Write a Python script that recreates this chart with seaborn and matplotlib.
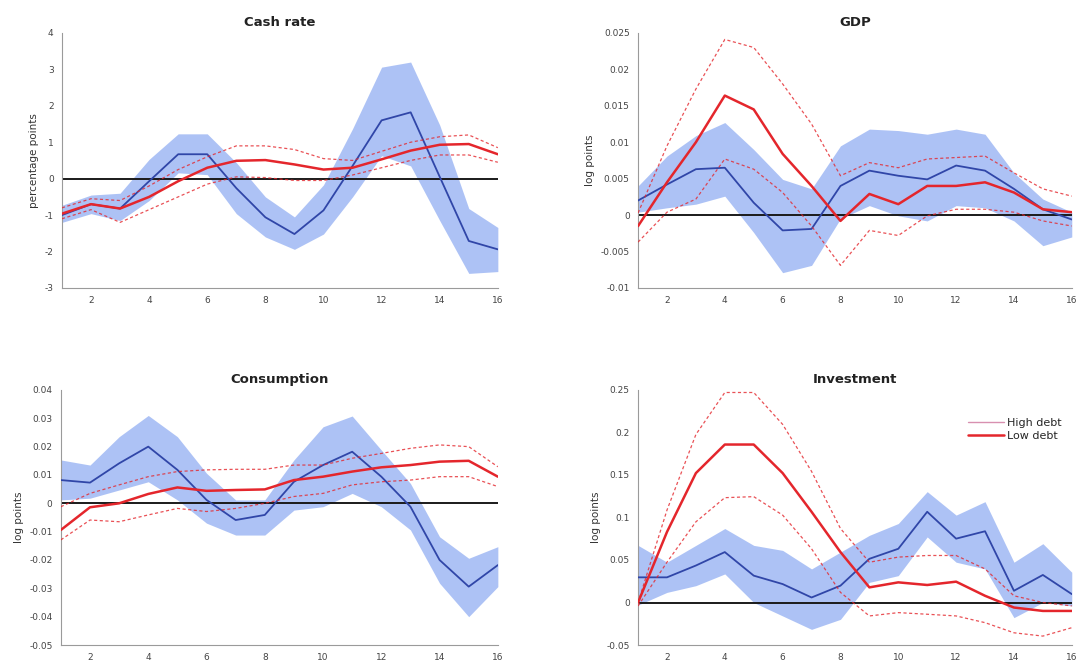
import numpy as np
import pandas as pd
import matplotlib
matplotlib.use("Agg")
import matplotlib.pyplot as plt
import seaborn as sns

# Impulse-response horizon (quarters)
horizon = list(range(1, 17))

# ---- Cash rate (percentage points) ----
cash_high = [-1.0, -0.70, -0.82, -0.07, 0.67, 0.67, -0.26, -1.06, -1.52, -0.87, 0.35, 1.60, 1.82, 0.05, -1.71, -1.94]
cash_high_lo = [-1.20, -0.96, -1.15, -0.60, 0.16, 0.11, -0.96, -1.60, -1.94, -1.52, -0.50, 0.63, 0.35, -1.15, -2.60, -2.55]
cash_high_hi = [-0.73, -0.45, -0.40, 0.53, 1.23, 1.23, 0.44, -0.50, -1.05, -0.17, 1.37, 3.06, 3.20, 1.47, -0.82, -1.34]
cash_low = [-0.96, -0.70, -0.82, -0.50, -0.07, 0.30, 0.49, 0.51, 0.39, 0.25, 0.30, 0.53, 0.77, 0.93, 0.95, 0.67]
cash_low_lo = [-1.10, -0.85, -1.20, -0.85, -0.50, -0.15, 0.05, 0.03, -0.05, -0.05, 0.10, 0.30, 0.50, 0.65, 0.65, 0.45]
cash_low_hi = [-0.80, -0.55, -0.60, -0.20, 0.25, 0.60, 0.90, 0.90, 0.80, 0.55, 0.50, 0.75, 1.00, 1.15, 1.20, 0.85]

# ---- GDP (log points) ----
gdp_high = [0.0020, 0.0042, 0.0063, 0.0065, 0.0017, -0.0021, -0.0019, 0.0040, 0.0061, 0.0054, 0.0049, 0.0068, 0.0061, 0.0036, 0.0008, -0.0006]
gdp_high_lo = [0.0004, 0.0010, 0.0015, 0.0026, -0.0024, -0.0079, -0.0069, -0.0005, 0.0013, -0.0001, -0.0008, 0.0013, 0.0010, -0.0008, -0.0042, -0.0030]
gdp_high_hi = [0.0040, 0.0081, 0.0109, 0.0127, 0.0090, 0.0049, 0.0036, 0.0095, 0.0118, 0.0116, 0.0111, 0.0118, 0.0111, 0.0058, 0.0022, 0.0004]
gdp_low = [-0.0015, 0.0045, 0.0100, 0.0164, 0.0145, 0.0084, 0.0040, -0.0008, 0.0029, 0.0015, 0.0040, 0.0040, 0.0045, 0.0031, 0.0008, 0.0004]
gdp_low_lo = [-0.0037, 0.0004, 0.0022, 0.0077, 0.0063, 0.0031, -0.0015, -0.0069, -0.0021, -0.0028, -0.0001, 0.0008, 0.0008, 0.0004, -0.0008, -0.0015]
gdp_low_hi = [0.0003, 0.0095, 0.0173, 0.0241, 0.0230, 0.0180, 0.0125, 0.0054, 0.0072, 0.0065, 0.0077, 0.0079, 0.0081, 0.0058, 0.0036, 0.0026]

# ---- Consumption (log points) ----
cons_high = [0.0082, 0.0073, 0.0141, 0.0200, 0.0118, 0.0012, -0.0059, -0.0041, 0.0076, 0.0135, 0.0182, 0.0094, -0.0012, -0.0200, -0.0294, -0.0218]
cons_high_lo = [0.0012, 0.0018, 0.0047, 0.0076, 0.0012, -0.0070, -0.0112, -0.0112, -0.0024, -0.0012, 0.0035, -0.0012, -0.0094, -0.0282, -0.0400, -0.0294]
cons_high_hi = [0.0153, 0.0135, 0.0235, 0.0310, 0.0235, 0.0106, 0.0012, 0.0012, 0.0153, 0.0270, 0.0308, 0.0188, 0.0070, -0.0118, -0.0194, -0.0153]
cons_low = [-0.0094, -0.0014, 0.0000, 0.0033, 0.0056, 0.0044, 0.0047, 0.0049, 0.0082, 0.0094, 0.0112, 0.0127, 0.0135, 0.0147, 0.0150, 0.0094]
cons_low_lo = [-0.0129, -0.0059, -0.0065, -0.0041, -0.0018, -0.0029, -0.0018, 0.0000, 0.0024, 0.0035, 0.0065, 0.0076, 0.0082, 0.0094, 0.0094, 0.0059]
cons_low_hi = [-0.0012, 0.0035, 0.0065, 0.0094, 0.0112, 0.0118, 0.0120, 0.0120, 0.0135, 0.0135, 0.0159, 0.0176, 0.0194, 0.0206, 0.0200, 0.0129]

# ---- Investment (log points) ----
inv_high = [0.0296, 0.0296, 0.0435, 0.0593, 0.0316, 0.0217, 0.0059, 0.0198, 0.0514, 0.0632, 0.1067, 0.0751, 0.0838, 0.0138, 0.0324, 0.0099]
inv_high_lo = [-0.0030, 0.0119, 0.0198, 0.0336, 0.0000, -0.0158, -0.0316, -0.0198, 0.0237, 0.0316, 0.0771, 0.0474, 0.0395, -0.0178, 0.0000, -0.0040]
inv_high_hi = [0.0672, 0.0474, 0.0672, 0.0870, 0.0672, 0.0613, 0.0395, 0.0593, 0.0790, 0.0929, 0.1304, 0.1028, 0.1186, 0.0474, 0.0692, 0.0356]
inv_low = [0.0000, 0.0830, 0.1522, 0.1858, 0.1858, 0.1522, 0.1067, 0.0593, 0.0178, 0.0237, 0.0206, 0.0245, 0.0079, -0.0059, -0.0099, -0.0099]
inv_low_lo = [-0.0040, 0.0474, 0.0949, 0.1233, 0.1245, 0.1028, 0.0632, 0.0119, -0.0158, -0.0119, -0.0138, -0.0158, -0.0237, -0.0356, -0.0395, -0.0296]
inv_low_hi = [0.0000, 0.1087, 0.1976, 0.2470, 0.2470, 0.2095, 0.1542, 0.0870, 0.0474, 0.0534, 0.0553, 0.0553, 0.0395, 0.0079, 0.0000, -0.0040]

panels = [
    ("Cash rate", "percentage points", (-3, 4), np.arange(-3, 4.01, 1),
     cash_high, cash_high_lo, cash_high_hi, cash_low, cash_low_lo, cash_low_hi),
    ("GDP", "log points", (-0.01, 0.025), np.arange(-0.01, 0.02501, 0.005),
     gdp_high, gdp_high_lo, gdp_high_hi, gdp_low, gdp_low_lo, gdp_low_hi),
    ("Consumption", "log points", (-0.05, 0.04), np.arange(-0.05, 0.0401, 0.01),
     cons_high, cons_high_lo, cons_high_hi, cons_low, cons_low_lo, cons_low_hi),
    ("Investment", "log points", (-0.05, 0.25), np.arange(-0.05, 0.2501, 0.05),
     inv_high, inv_high_lo, inv_high_hi, inv_low, inv_low_lo, inv_low_hi),
]

sns.set_theme(style="white")
plt.rcParams["font.family"] = ["DejaVu Sans"]

BAND = "#9fb8f4"
BLUE = "#3046a8"
RED = "#e4262c"
GREY = "#9a9a9a"

fig = plt.figure(figsize=(10.87, 6.66), dpi=100)
rects = [
    [0.057, 0.5676, 0.401, 0.383],
    [0.587, 0.5676, 0.399, 0.383],
    [0.056, 0.0315, 0.402, 0.383],
    [0.587, 0.0315, 0.399, 0.383],
]


def fmt(v, _pos=None):
    if abs(v) < 1e-12:
        return "0"
    return f"{v:g}"


for rect, (title, ylab, ylim, yticks, hm, hl, hh, lm, ll, lh) in zip(rects, panels):
    ax = fig.add_axes(rect)
    df = pd.DataFrame({"h": horizon, "hm": hm, "hl": hl, "hh": hh,
                       "lm": lm, "ll": ll, "lh": lh})

    ax.fill_between(df["h"], df["hl"], df["hh"], color=BAND, alpha=0.85,
                    linewidth=0, zorder=1)
    ax.axhline(0, color="#1a1a1a", lw=1.4, zorder=2)
    sns.lineplot(data=df, x="h", y="hm", ax=ax, color=BLUE, lw=1.3, zorder=3)
    hi_line = sns.lineplot(data=df, x="h", y="lh", ax=ax, color=RED, lw=0.9,
                           linestyle=(0, (2.5, 2.0)), zorder=3, alpha=0.8)
    sns.lineplot(data=df, x="h", y="ll", ax=ax, color=RED, lw=0.9,
                 linestyle=(0, (2.5, 2.0)), zorder=3, alpha=0.8)
    sns.lineplot(data=df, x="h", y="lm", ax=ax, color=RED, lw=1.8, zorder=4)

    ax.set_xlim(1, 16)
    ax.set_ylim(*ylim)
    ax.set_xticks(range(2, 17, 2))
    ax.set_yticks(yticks)
    ax.yaxis.set_major_formatter(matplotlib.ticker.FuncFormatter(fmt))
    ax.set_xlabel("")
    ax.set_ylabel(ylab, fontsize=7.5, color="#333333", labelpad=4)
    ax.set_title(title, fontsize=9.5, fontweight="bold", color="#222222", pad=5)

    for side in ("top", "right"):
        ax.spines[side].set_visible(False)
    for side in ("left", "bottom"):
        ax.spines[side].set_color(GREY)
        ax.spines[side].set_linewidth(0.8)
    ax.tick_params(axis="both", direction="in", length=3, width=0.6,
                   colors=GREY, labelsize=6.5, labelcolor="#444444", pad=6)

    if title == "Investment":
        handles = [
            matplotlib.lines.Line2D([], [], color="#d890b0", lw=1.0),
            matplotlib.lines.Line2D([], [], color=RED, lw=1.8),
        ]
        ax.legend(handles, ["High debt", "Low debt"], loc="upper right",
                  frameon=False, fontsize=8, handlelength=3.2,
                  handletextpad=0.3, labelspacing=0.25,
                  bbox_to_anchor=(1.0, 0.93))

fig.savefig("out.png", dpi=100)
